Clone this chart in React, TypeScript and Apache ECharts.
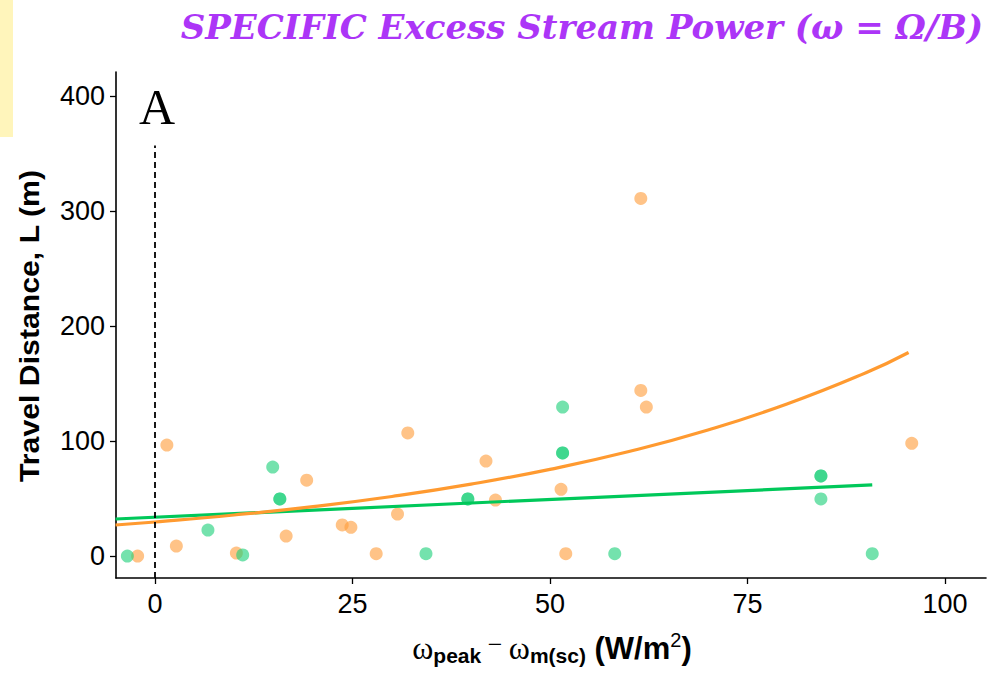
import React, { useEffect, useRef } from "react";
import * as echarts from "echarts";

// Observations: excess specific stream power (W/m²) vs. travel distance (m)
const orangeX = [-2.2, 1.5, 2.7, 10.3, 16.6, 19.2, 23.7, 24.8, 28.0, 30.7, 32.0, 41.9, 43.1, 51.4, 52.0, 61.5, 62.2, 61.5, 95.8];
const orangeY = [0, 96.5, 8.7, 2.6, 17.4, 66, 27, 25, 2, 36.5, 107, 82.6, 48.7, 58, 2, 144, 129.5, 311, 98];

const greenX = [-3.5, 6.7, 11.1, 14.9, 15.8, 15.8, 34.3, 39.6, 39.6, 51.6, 51.6, 51.6, 58.2, 84.3, 84.3, 84.3, 90.8];
const greenY = [0, 22.6, 1, 77.4, 49.6, 49.6, 2, 49.6, 49.6, 129.5, 89.6, 89.6, 2, 69.6, 69.6, 49.6, 2];

// Fitted trends
const orangeFitX = [-5, 0, 10, 20, 30, 40, 50, 60, 70, 80, 90, 95.4];
const orangeFitY = [27.0, 29.6, 35.7, 43.0, 51.8, 62.5, 75.4, 90.9, 109.6, 132.2, 159.4, 177.0];
const greenFitX = [-5, 90.8];
const greenFitY = [32.2, 61.8];

const xTicks = [0, 25, 50, 75, 100];
const yTicks = [0, 100, 200, 300, 400];

const zip = (xs: number[], ys: number[]) => xs.map((x, i) => [x, ys[i]]);

export default function App() {
  const ref = useRef<HTMLDivElement>(null);

  useEffect(() => {
    document.body.style.margin = "0";
    const chart = echarts.init(ref.current!, undefined, { renderer: "svg" });
    const sans = "Liberation Sans, Arial, sans-serif";
    const serif = "Liberation Serif, Times New Roman, serif";

    chart.setOption({
      animation: false,
      backgroundColor: "#ffffff",
      grid: { left: 116, right: 4, top: 72, bottom: 95, containLabel: false },
      xAxis: {
        type: "value",
        min: -4.94,
        max: 105.2,
        splitLine: { show: false },
        axisLine: { show: true, onZero: false, lineStyle: { color: "#000", width: 1.6 } },
        axisTick: { show: true, length: 6, customValues: xTicks, lineStyle: { color: "#000", width: 1.3 } },
        axisLabel: { customValues: xTicks, margin: 12, color: "#000", fontSize: 27, fontFamily: sans },
      },
      yAxis: {
        type: "value",
        min: -19.1,
        max: 420.9,
        splitLine: { show: false },
        axisLine: { show: true, onZero: false, lineStyle: { color: "#000", width: 1.6 } },
        axisTick: { show: true, length: 6, customValues: yTicks, lineStyle: { color: "#000", width: 1.3 } },
        axisLabel: { customValues: yTicks, margin: 11, color: "#000", fontSize: 27, fontFamily: sans },
      },
      series: [
        {
          type: "scatter",
          data: zip(orangeX, orangeY),
          symbolSize: 13,
          itemStyle: { color: "#ff9e3d", opacity: 0.62 },
          z: 2,
          markLine: {
            silent: true,
            symbol: "none",
            label: { show: false },
            lineStyle: { color: "#000", type: [6, 4], width: 1.8 },
            data: [[{ coord: [0, -19.1] }, { coord: [0, 357] }]],
          },
        },
        {
          type: "scatter",
          data: zip(greenX, greenY),
          symbolSize: 13,
          itemStyle: { color: "#1fd07a", opacity: 0.62 },
          z: 2,
        },
        {
          type: "line",
          data: zip(greenFitX, greenFitY),
          showSymbol: false,
          lineStyle: { color: "#00c85a", width: 3.2 },
          z: 3,
        },
        {
          type: "line",
          data: zip(orangeFitX, orangeFitY),
          smooth: true,
          showSymbol: false,
          lineStyle: { color: "#ff9a30", width: 3.2 },
          z: 4,
        },
      ],
      graphic: [
        { type: "rect", shape: { x: 0, y: 0, width: 13, height: 137 }, style: { fill: "#fff5bb" } },
        {
          type: "text",
          x: 983,
          y: 27,
          style: {
            text: "SPECIFIC Excess Stream Power (ω = Ω/B)",
            fill: "#ac35f7",
            font: "italic bold 34px DejaVu Serif, serif",
            align: "right",
            verticalAlign: "middle",
          },
        },
        {
          type: "text",
          x: 157,
          y: 107,
          style: { text: "A", fill: "#000", font: `50px ${serif}`, align: "center", verticalAlign: "middle" },
        },
        {
          type: "text",
          x: 30,
          y: 326,
          rotation: Math.PI / 2,
          scaleX: 1.12,
          style: {
            text: "Travel Distance, L (m)",
            fill: "#000",
            font: `bold 27px ${sans}`,
            align: "center",
            verticalAlign: "middle",
          },
        },
        {
          type: "text",
          x: 552,
          y: 648,
          style: {
            text: "{w|ω}{sub|peak}{op| − }{w|ω}{sub|m(sc)}{b| (W/m}{sup|2}{b|)}",
            fill: "#000",
            align: "center",
            verticalAlign: "middle",
            rich: {
              w: { fontFamily: serif, fontSize: 32, fill: "#000" },
              op: { fontFamily: serif, fontSize: 26, fill: "#000", padding: [0, 0, 8, 0] },
              sub: { fontFamily: sans, fontWeight: "bold", fontSize: 21, fill: "#000", padding: [14, 0, 0, 0] },
              b: { fontFamily: sans, fontWeight: "bold", fontSize: 31, fill: "#000" },
              sup: { fontFamily: sans, fontSize: 20, fill: "#000", padding: [0, 0, 16, 0] },
            },
          },
        },
      ],
    });
    return () => chart.dispose();
  }, []);

  return <div ref={ref} style={{ width: 990, height: 673 }} />;
}
